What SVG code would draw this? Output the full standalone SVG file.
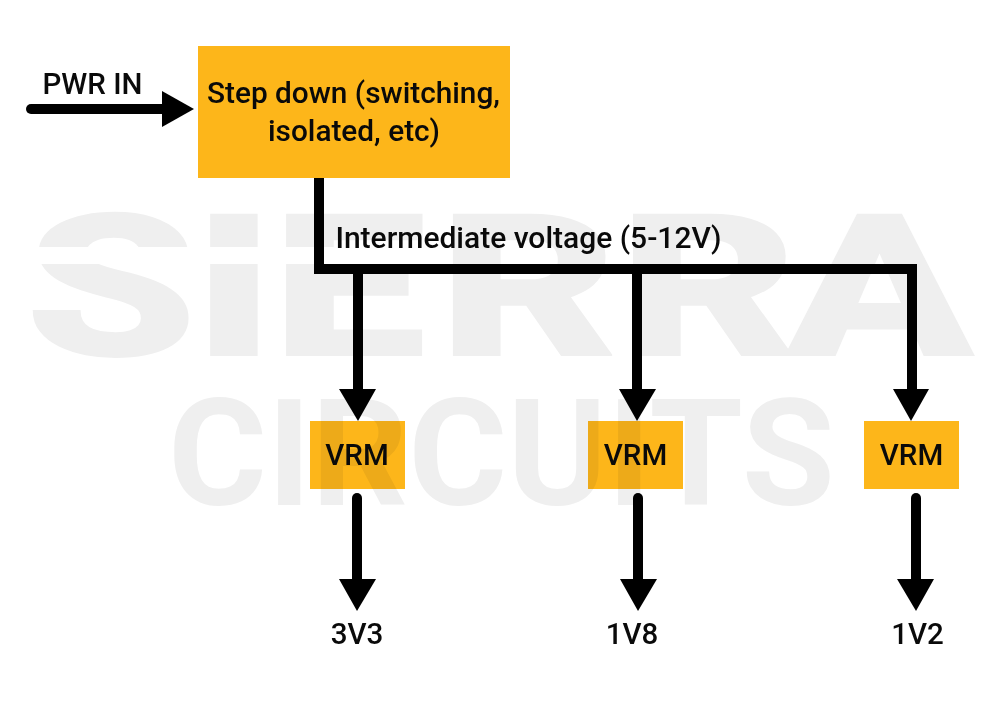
<svg xmlns="http://www.w3.org/2000/svg" width="1000" height="720" viewBox="0 0 1000 720">
<style>
.box{fill:#fdb61a}
.t{font-family:Roboto,"Liberation Sans",sans-serif;font-size:29.500px;fill:#0a0a0a;text-anchor:middle;font-weight:500}
.wm{font-family:Roboto,"Liberation Sans",sans-serif;fill:#efefef}
.w{fill:none;stroke:#000;stroke-width:10}
.h{fill:#000}
</style>
<rect width="1000" height="720" fill="#fff"/>
<g id="node-stepdown"><rect class="box" x="198" y="46" width="312" height="132"/><text class="t" x="353.500" y="103" style="font-size:29.800px">Step down (switching,</text><text class="t" x="354" y="141" style="font-size:29.800px">isolated, etc)</text></g>
<g id="node-vrm1"><rect class="box" x="310" y="421" width="95" height="68"/><text class="t" x="357" y="465">VRM</text></g>
<g id="node-vrm2"><rect class="box" x="588" y="421" width="95" height="68"/><text class="t" x="635.500" y="465">VRM</text></g>
<g id="node-vrm3"><rect class="box" x="864" y="421" width="95" height="68"/><text class="t" x="911.500" y="465">VRM</text></g>
<g id="watermark" style="mix-blend-mode:multiply">
<rect width="1000" height="720" fill="#fff"/>
<text class="wm" font-weight="900" transform="scale(1.39 1)" x="17.300 138.100 195 315 444.600 564.700" y="356" font-size="200">SIERRA</text>
<rect x="20" y="247" width="420" height="17" fill="#fff"/>
<text class="wm" font-weight="700" x="168" y="505" font-size="148" textLength="667" lengthAdjust="spacingAndGlyphs">CIRCUITS</text>
</g>
<g id="connectors">
<path class="w" stroke-linecap="round" d="M31 109H165"/><path class="h" d="M162 91L194 109L162 127Z"/>
<path class="w" d="M319 178V269H912V392"/>
<path class="w" d="M358 269V392"/><path class="w" d="M637 269V392"/>
<path class="h" d="M339 389H376L358 421Z"/><path class="h" d="M619 389H656L637 421Z"/><path class="h" d="M893 389H929L911 421Z"/>
<path class="w" stroke-linecap="round" d="M357 498V582"/><path class="h" d="M339 579H376L357 611Z"/>
<path class="w" stroke-linecap="round" d="M638 498V582"/><path class="h" d="M620 579H657L638 611Z"/>
<path class="w" stroke-linecap="round" d="M916 498V582"/><path class="h" d="M897 579H934L916 611Z"/>
</g>
<g id="labels">
<text class="t" x="92.500" y="94">PWR IN</text>
<text class="t" x="528.500" y="248" style="font-size:30px">Intermediate voltage (5-12V)</text>
<text class="t" x="357" y="644">3V3</text>
<text class="t" x="632" y="644">1V8</text>
<text class="t" x="917.500" y="644">1V2</text>
</g>
</svg>
